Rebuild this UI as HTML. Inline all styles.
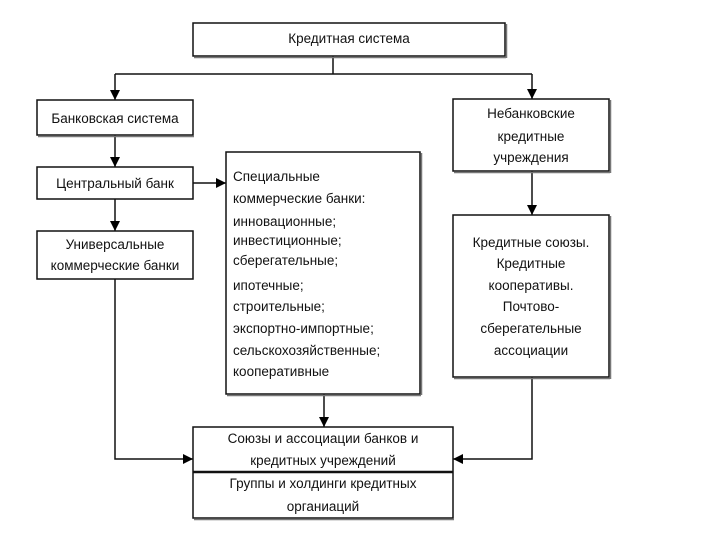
<!DOCTYPE html>
<html><head><meta charset="utf-8"><style>
html,body{margin:0;padding:0;background:#fff;}
svg text{font-family:"Liberation Sans",sans-serif;font-size:13.5px;fill:#111;}
</style></head><body>
<svg width="720" height="540" viewBox="0 0 720 540" xmlns="http://www.w3.org/2000/svg">
<defs>
<marker id="a" viewBox="0 0 10 10" refX="10" refY="5" markerWidth="10" markerHeight="10" markerUnits="userSpaceOnUse" orient="auto"><path d="M0,0 L10,5 L0,10 z" fill="#000"/></marker>
</defs>
<g fill="none" stroke="#111" stroke-width="1.5">
<!-- connectors -->
<line x1="333" y1="56" x2="333" y2="74"/>
<line x1="115" y1="74" x2="532" y2="74"/>
<line x1="115" y1="74" x2="115" y2="100" marker-end="url(#a)" stroke-width="1.5"/>
<line x1="532" y1="74" x2="532" y2="99" marker-end="url(#a)"/>
<line x1="115" y1="135" x2="115" y2="167" marker-end="url(#a)"/>
<line x1="115" y1="199" x2="115" y2="231" marker-end="url(#a)"/>
<line x1="193" y1="183" x2="226" y2="183" marker-end="url(#a)"/>
<line x1="532" y1="171" x2="532" y2="215" marker-end="url(#a)"/>
<line x1="324" y1="394" x2="324" y2="427" marker-end="url(#a)"/>
<polyline points="115,279 115,459 193,459" marker-end="url(#a)"/>
<polyline points="532,377 532,459 453,459" marker-end="url(#a)"/>
<!-- boxes -->
<rect x="193" y="23" width="312" height="33"/>
<rect x="37" y="100" width="156" height="35"/>
<rect x="37" y="167" width="156" height="32"/>
<rect x="37" y="231" width="156" height="48"/>
<rect x="226" y="152" width="194" height="242"/>
<rect x="453" y="99" width="156" height="72"/>
<rect x="453" y="215" width="156" height="162"/>
<rect x="193" y="427" width="260" height="91"/>
<line x1="193" y1="472" x2="453" y2="472" stroke-width="2.5"/>
</g>
<g stroke="#777" stroke-width="1.5" fill="none">
<line x1="194" y1="57.5" x2="506" y2="57.5"/><line x1="506.5" y1="24" x2="506.5" y2="58"/>
<line x1="38" y1="136.5" x2="194" y2="136.5"/>
<line x1="454" y1="172.5" x2="610" y2="172.5"/><line x1="610.5" y1="100" x2="610.5" y2="173"/>
<line x1="454" y1="378.5" x2="610" y2="378.5"/><line x1="610.5" y1="216" x2="610.5" y2="379"/>
<line x1="421.5" y1="153" x2="421.5" y2="395"/><line x1="227" y1="395.5" x2="421" y2="395.5"/>
<line x1="194" y1="519.5" x2="454" y2="519.5"/>
</g>
<g text-anchor="middle">
<text x="349" y="43">Кредитная система</text>
<text x="115" y="123">Банковская система</text>
<text x="115" y="188">Центральный банк</text>
<text x="115" y="249">Универсальные</text>
<text x="115" y="270">коммерческие банки</text>
<text x="531" y="118">Небанковские</text>
<text x="531" y="141">кредитные</text>
<text x="531" y="162">учреждения</text>
<text x="531" y="247">Кредитные союзы.</text>
<text x="531" y="268">Кредитные</text>
<text x="531" y="290">кооперативы.</text>
<text x="531" y="311">Почтово-</text>
<text x="531" y="333">сберегательные</text>
<text x="531" y="355">ассоциации</text>
<text x="323" y="443">Союзы и ассоциации банков и</text>
<text x="323" y="465">кредитных учреждений</text>
<text x="323" y="488">Группы и холдинги кредитных</text>
<text x="323" y="511">органиаций</text>
</g>
<g>
<text x="233" y="181">Специальные</text>
<text x="233" y="203">коммерческие банки:</text>
<text x="233" y="226">инновационные;</text>
<text x="233" y="245">инвестиционные;</text>
<text x="233" y="265">сберегательные;</text>
<text x="233" y="290">ипотечные;</text>
<text x="233" y="311">строительные;</text>
<text x="233" y="333">экспортно-импортные;</text>
<text x="233" y="355">сельскохозяйственные;</text>
<text x="233" y="376">кооперативные</text>
</g>
</svg>
</body></html>
